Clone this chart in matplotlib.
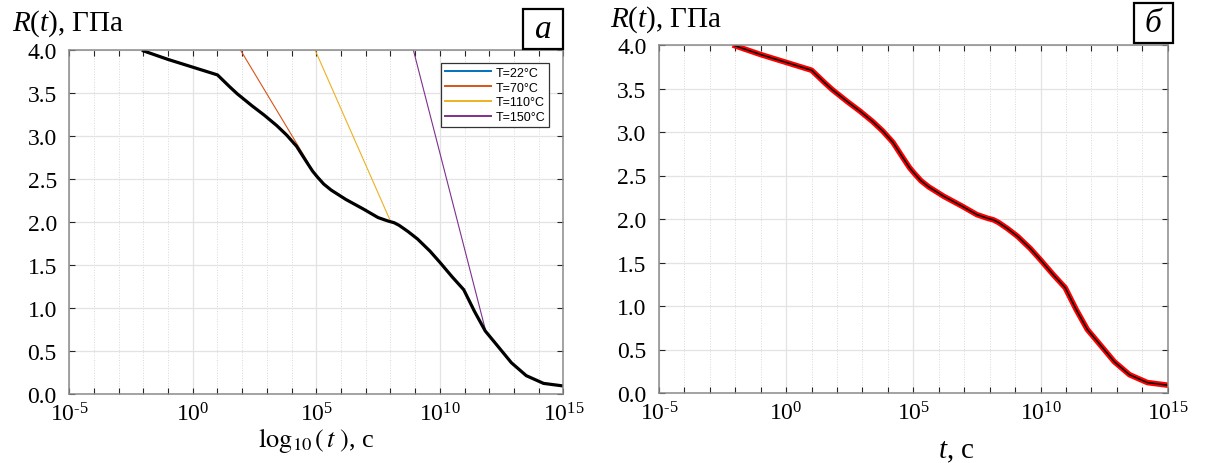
import numpy as np
import matplotlib
matplotlib.use("Agg")
from matplotlib import pyplot as plt
from matplotlib.patches import Rectangle
from matplotlib.ticker import FixedLocator, FuncFormatter, NullFormatter

plt.rcParams['font.family'] = ['Liberation Serif', 'DejaVu Serif']
plt.rcParams['mathtext.fontset'] = 'custom'
plt.rcParams['mathtext.rm'] = 'Liberation Serif'
plt.rcParams['mathtext.it'] = 'Liberation Serif:italic'
plt.rcParams['mathtext.bf'] = 'Liberation Serif:bold'

# ---R(t) master curve (log10 of t in seconds, GPa)---
log_t = [-2, -1, 0, 1, 1.25, 1.5, 1.8, 2.4, 2.9, 3.4, 3.8, 4.2, 4.6, 4.85,
         5.05, 5.3, 5.6, 6.2, 6.9, 7.5, 7.9, 8.15, 8.35, 8.7, 9.1, 9.6,
         10.0, 10.5, 10.97, 11.4, 11.84, 12.3, 12.9, 13.5, 14.2, 15.0]
r_gpa = [3.99, 3.89, 3.80, 3.71, 3.64, 3.57, 3.49, 3.35, 3.24, 3.12, 3.01,
         2.88, 2.70, 2.59, 2.52, 2.44, 2.37, 2.26, 2.15, 2.05, 2.01, 1.99,
         1.96, 1.89, 1.80, 1.66, 1.53, 1.36, 1.21, 0.96, 0.73, 0.57,
         0.36, 0.21, 0.12, 0.09]

# ---shift lines for each temperature---
temp_labels = ['T=22°C', 'T=70°C', 'T=110°C', 'T=150°C']
temp_colors = ['#0072BD', '#D95319', '#EDB120', '#7E2F8E']
temp_log_t = [[-2, 1], [1.93, 4.67], [4.95, 7.97], [8.93, 11.84]]
temp_r = [[3.99, 3.71], [4.0, 2.69], [4.0, 2.03], [4.0, 0.75]]

y_ticks = [0.0, 0.5, 1.0, 1.5, 2.0, 2.5, 3.0, 3.5, 4.0]
x_major = [1e-5, 1e0, 1e5, 1e10, 1e15]

t = 10.0 ** np.array(log_t)

W, H = 1205, 464
fig = plt.figure(figsize=(W / 100, H / 100), dpi=100)


def px_axes(x0, y0, x1, y1):
    return fig.add_axes([x0 / W, 1 - y1 / H, (x1 - x0) / W, (y1 - y0) / H])


def dec_label(v, pos):
    k = int(round(np.log10(v)))
    exp = ('\u2010%d' % -k) if k < 0 else '%d' % k
    return r'$10^{\mathrm{%s}}$' % exp


def style_axes(ax):
    ax.set_xscale('log')
    ax.set_xlim(1e-5, 1e15)
    ax.set_ylim(0, 4)
    ax.xaxis.set_major_locator(FixedLocator(x_major))
    ax.xaxis.set_minor_locator(FixedLocator([10.0 ** k for k in range(-5, 16) if k % 5]))
    ax.xaxis.set_major_formatter(FuncFormatter(dec_label))
    ax.xaxis.set_minor_formatter(NullFormatter())
    ax.set_yticks(y_ticks)
    ax.set_yticklabels(['%.1f' % v for v in y_ticks])
    ax.tick_params(which='both', direction='in', top=True, right=True,
                   length=4, width=0.8, color='#262626', labelsize=17, pad=9,
                   labelfontfamily='Liberation Serif')
    ax.tick_params(axis='x', pad=6)
    ax.grid(which='major', color='#e3e3e3', lw=0.9, ls='-')
    ax.grid(which='minor', axis='x', color='#d8d8d8', lw=0.7, ls=':')
    ax.set_axisbelow(True)
    for s in ax.spines.values():
        s.set_color('#8a8a8a')
        s.set_linewidth(1.1)


# ---panel a---
ax1 = px_axes(69.3, 51, 563.3, 394.7)
style_axes(ax1)
for lab, col, lx, ry in zip(temp_labels, temp_colors, temp_log_t, temp_r):
    ax1.plot(10.0 ** np.array(lx), ry, color=col, lw=0.8, label=lab)
ax1.plot(t, r_gpa, color='black', lw=2.3, solid_joinstyle='round')
leg = ax1.legend(loc='upper right', bbox_to_anchor=(0.972, 0.962),
                 prop={'family': 'Liberation Sans', 'size': 9},
                 frameon=True, fancybox=False, framealpha=1, edgecolor='#333333',
                 handlelength=3.7, handletextpad=0.4, borderpad=0.3,
                 labelspacing=0.22, borderaxespad=0)
for h in leg.get_lines():
    h.set_linewidth(1.4)
leg.get_frame().set_linewidth(0.9)
ax1.set_xlabel(r'$\log_{10}\left(\,t^{\,}_{\,}\right)$, с', fontsize=19, labelpad=0,
               math_fontfamily='stix')

# ---panel b---
ax2 = px_axes(659, 46, 1167.7, 394)
style_axes(ax2)
ax2.plot(t, r_gpa, color='red', lw=4.0, solid_joinstyle='round')
ax2.plot(t, r_gpa, color='black', lw=1.1)
ax2.set_xlabel(r'$t$, с', fontsize=21, labelpad=4)
ax2.xaxis.set_label_coords(0.585, -0.13)

# ---y labels and panel letters---
fig.text(12 / W, 1 - 24 / H, r'$R(t)$, ГПа', fontsize=21, va='center', ha='left')
fig.text(610 / W, 1 - 20 / H, r'$R(t)$, ГПа', fontsize=21, va='center', ha='left')

for (x0, y0, x1, y1), letter in [((523, 10, 563, 50), 'а'), ((1134, 4, 1172.5, 44), 'б')]:
    fig.add_artist(Rectangle((x0 / W, 1 - y1 / H), (x1 - x0) / W, (y1 - y0) / H,
                             transform=fig.transFigure, fill=False, ec='black', lw=1.6))
    fig.text((x0 + x1) / 2 / W, 1 - (y0 + y1) / 2 / H, letter, fontsize=24,
             style='italic', ha='center', va='center')

fig.savefig('out.png', dpi=100)
